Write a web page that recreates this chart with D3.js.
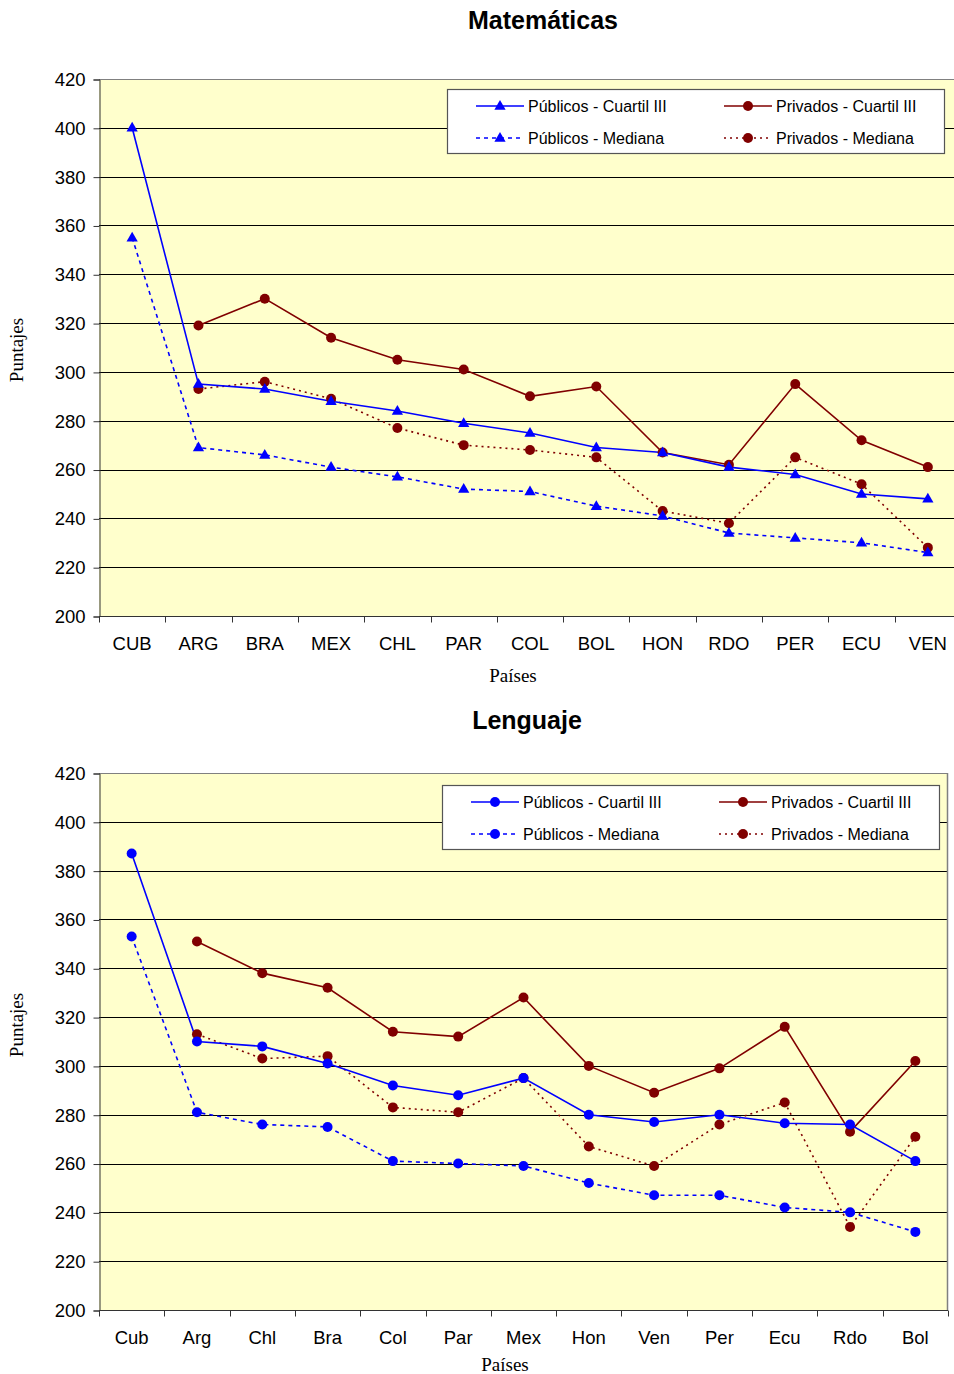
<!DOCTYPE html>
<html><head><meta charset="utf-8">
<script src="https://cdn.jsdelivr.net/npm/d3@7"></script>
<style>body{margin:0;background:#fff}svg{display:block}</style>
</head><body>
<svg id="c" width="954" height="1374"></svg>
<script>
const yTicks = [200,220,240,260,280,300,320,340,360,380,400,420];
const seriesNames = ["Públicos - Cuartil III","Privados - Cuartil III","Públicos - Mediana","Privados - Mediana"];

const matCats = ["CUB","ARG","BRA","MEX","CHL","PAR","COL","BOL","HON","RDO","PER","ECU","VEN"];
const matPubQ3 = [400,295,293,288,284,279,275,269,267,261,258,250,248];
const matPubMed = [355,269,266,261,257,252,251,245,241,234,232,230,226];
const matPrivQ3 = [null,319,330,314,305,301,290,294,267,262,295,272,261];
const matPrivMed = [null,293,296,289,277,270,268,265,243,238,265,254,228];

const lenCats = ["Cub","Arg","Chl","Bra","Col","Par","Mex","Hon","Ven","Per","Ecu","Rdo","Bol"];
const lenPubQ3 = [387,310,308,301,292,288,295,280,277,280,276.5,276,261];
const lenPubMed = [353,281,276,275,261,260,259,252,247,247,242,240,232];
const lenPrivQ3 = [null,351,338,332,314,312,328,300,289,299,316,273,302];
const lenPrivMed = [null,313,303,304,283,281,295,267,259,276,285,234,271];

const svg = d3.select("#c");
const BLUE = "#0000FF", RED = "#800000";
const SANS = "'Liberation Sans', Arial, sans-serif";
const SERIF = "'Liberation Serif', 'Times New Roman', serif";

function drawChart(o){
  const g = svg.append("g");
  const x = d3.scaleBand().domain(o.cats).range([o.left, o.right]).padding(0);
  const y = d3.scaleLinear().domain([200,420]).range([o.bottom, o.top]);
  g.append("rect").attr("x",o.left).attr("y",o.top).attr("width",o.right-o.left).attr("height",o.bottom-o.top).attr("fill","#FFFFCC");
  g.selectAll(".grid").data(yTicks.filter(t=>t>200)).enter().append("line")
    .attr("x1",o.left).attr("x2",o.right)
    .attr("y1",d=>Math.round(y(d))+0.5).attr("y2",d=>Math.round(y(d))+0.5)
    .attr("stroke",d=>d===420?"#808080":"#000").attr("stroke-width",1);
  if(o.rightBorder){
    g.append("line").attr("x1",o.right-0.5).attr("x2",o.right-0.5).attr("y1",o.top).attr("y2",o.bottom).attr("stroke","#808080").attr("stroke-width",1.5);
  }
  const yAxis = d3.axisLeft(y).tickValues(yTicks).tickSize(6).tickPadding(8);
  const ya = g.append("g").attr("transform",`translate(${o.left+0.5},0.5)`).call(yAxis);
  ya.select(".domain").attr("stroke","#333");
  ya.selectAll(".tick line").attr("stroke","#333");
  ya.selectAll("text").attr("font-family",SANS).attr("font-size",18.5).attr("fill","#000");
  const xa = g.append("g").attr("transform",`translate(0,${o.bottom+0.5})`);
  xa.append("line").attr("x1",o.left).attr("x2",o.right).attr("stroke","#333");
  const bounds = o.cats.map((c,i)=>x(c)).concat([o.right]);
  xa.selectAll(".tk").data(bounds).enter().append("line")
    .attr("x1",d=>Math.round(d)+0.5).attr("x2",d=>Math.round(d)+0.5).attr("y1",0).attr("y2",6).attr("stroke","#333");
  xa.selectAll(".lb").data(o.cats).enter().append("text")
    .attr("x",d=>x(d)+x.bandwidth()/2).attr("y",33.5).attr("text-anchor","middle")
    .attr("font-family",SANS).attr("font-size",18.5).text(d=>d);
  g.append("text").attr("x",o.titleX).attr("y",o.titleY).attr("text-anchor","middle")
    .attr("font-family",SANS).attr("font-weight","bold").attr("font-size",25).text(o.title);
  g.append("text").attr("x",o.xTitleX).attr("y",o.xTitleY).attr("text-anchor","middle")
    .attr("font-family",SERIF).attr("font-size",19).text("Países");
  g.append("text").attr("transform",`translate(${o.yTitleX},${o.yTitleY}) rotate(-90)`).attr("text-anchor","middle")
    .attr("font-family",SERIF).attr("font-size",19).text("Puntajes");

  const cx = c => x(c)+x.bandwidth()/2;
  const series = [
    {vals:o.pubQ3, color:BLUE, dash:null, marker:o.pubMarker},
    {vals:o.pubMed, color:BLUE, dash:"4,4", marker:o.pubMarker},
    {vals:o.privQ3, color:RED, dash:null, marker:"circle"},
    {vals:o.privMed, color:RED, dash:"2,4", marker:"circle"}
  ];
  const line = d3.line().defined(d=>d.v!=null).x(d=>cx(d.c)).y(d=>y(d.v));
  const order = [3,2,1,0];
  order.forEach(i=>{
    const s = series[i];
    const data = o.cats.map((c,k)=>({c, v:s.vals[k]}));
    g.append("path").datum(data).attr("d",line).attr("fill","none").attr("stroke",s.color)
      .attr("stroke-width",1.6).attr("stroke-dasharray",s.dash);
  });
  order.forEach(i=>{
    const s = series[i];
    const data = o.cats.map((c,k)=>({c, v:s.vals[k]})).filter(d=>d.v!=null);
    drawMarkers(g, data.map(d=>[cx(d.c), y(d.v)]), s.marker, s.color);
  });
  const L = o.legend;
  const lg = g.append("g");
  lg.append("rect").attr("x",L.x+0.5).attr("y",L.y+0.5).attr("width",L.w).attr("height",L.h).attr("fill","#fff").attr("stroke","#555").attr("stroke-width",1.2);
  const entries = [
    {name:seriesNames[0], s:series[0], col:0, row:0},
    {name:seriesNames[1], s:series[2], col:1, row:0},
    {name:seriesNames[2], s:series[1], col:0, row:1},
    {name:seriesNames[3], s:series[3], col:1, row:1}
  ];
  entries.forEach(e=>{
    const sx = L.x + 29 + e.col*248, sy = L.y + 17 + e.row*32;
    lg.append("line").attr("x1",sx).attr("x2",sx+48).attr("y1",sy).attr("y2",sy)
      .attr("stroke",e.s.color).attr("stroke-width",1.6).attr("stroke-dasharray",e.s.dash);
    drawMarkers(lg, [[sx+24, sy]], e.s.marker, e.s.color);
    lg.append("text").attr("x",sx+52).attr("y",sy+6)
      .attr("font-family",SANS).attr("font-size",16).text(e.name);
  });
}

function drawMarkers(g, pts, type, color){
  if(type==="triangle"){
    const sym = d3.symbol().type(d3.symbolTriangle).size(55);
    g.selectAll(null).data(pts).enter().append("path").attr("d",sym)
      .attr("transform",d=>`translate(${d[0]},${d[1]+0.5})`).attr("fill",color);
  } else {
    g.selectAll(null).data(pts).enter().append("circle").attr("cx",d=>d[0]).attr("cy",d=>d[1])
      .attr("r",5).attr("fill",color);
  }
}

drawChart({cats:matCats, pubQ3:matPubQ3, pubMed:matPubMed, privQ3:matPrivQ3, privMed:matPrivMed,
  left:99, right:961, top:79, bottom:616, rightBorder:false, pubMarker:"triangle",
  title:"Matemáticas", titleX:543, titleY:29, xTitleX:513, xTitleY:682, yTitleX:23, yTitleY:350,
  legend:{x:447, y:89, w:497, h:64}});
drawChart({cats:lenCats, pubQ3:lenPubQ3, pubMed:lenPubMed, privQ3:lenPrivQ3, privMed:lenPrivMed,
  left:99, right:948, top:773, bottom:1310, rightBorder:true, pubMarker:"circle",
  title:"Lenguaje", titleX:527, titleY:729, xTitleX:505, xTitleY:1371, yTitleX:23, yTitleY:1025,
  legend:{x:442, y:785, w:497, h:64}});
</script>
</body></html>
